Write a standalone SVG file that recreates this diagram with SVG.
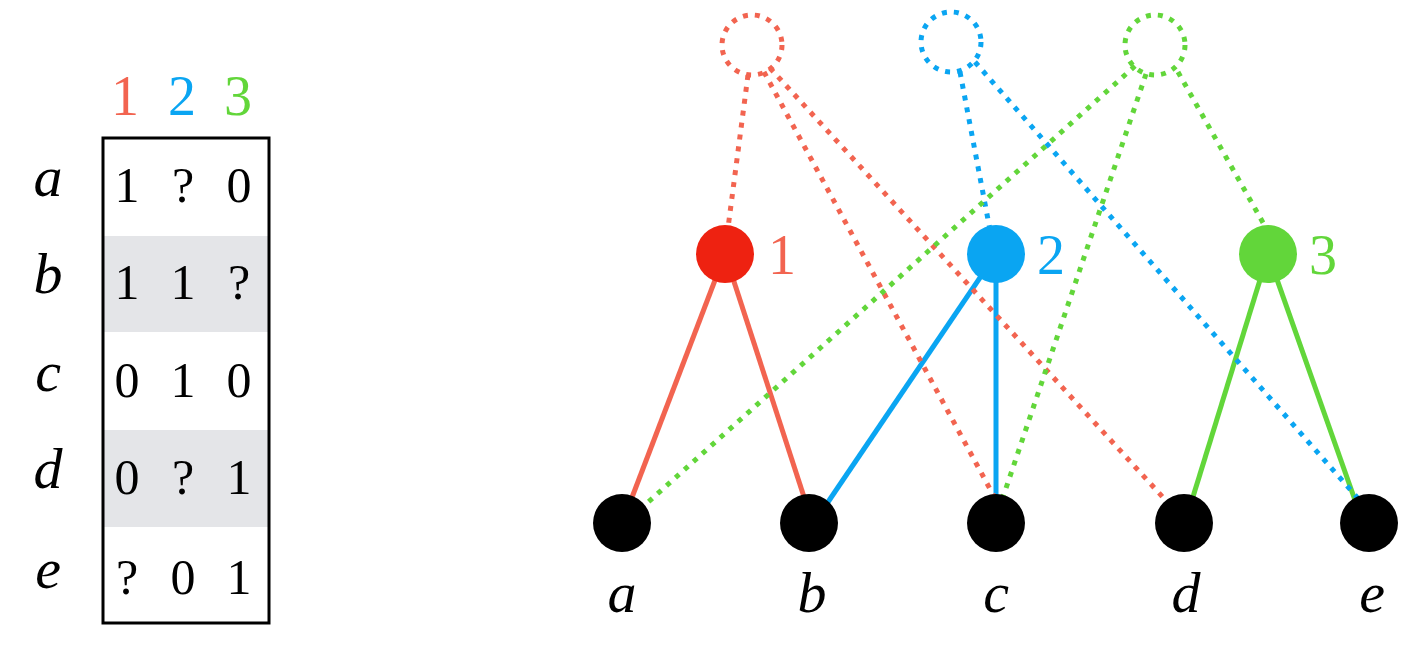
<svg xmlns="http://www.w3.org/2000/svg" width="1428" height="646" viewBox="0 0 1428 646">
<style>
text{font-family:"Times New Roman","Liberation Serif","DejaVu Serif",serif}
.t{font-size:50px}
.h{font-size:56px}
.i{font-size:58px;font-style:italic}
.r{stroke:#f26450}.b{stroke:#0aa5f2}.g{stroke:#62d63a}
.s{stroke-width:5;fill:none}
.d{stroke-width:5;fill:none;stroke-dasharray:5 7}
</style>
<rect width="1428" height="646" fill="#fff"/>
<g id="table">
<rect x="104" y="236" width="164" height="96" fill="#e4e5e8"/>
<rect x="104" y="430" width="164" height="97" fill="#e4e5e8"/>
<rect x="103" y="138" width="166" height="485" fill="none" stroke="#000" stroke-width="3"/>
<g text-anchor="middle">
<text class="h" x="125" y="115" fill="#f26450">1</text>
<text class="h" x="182" y="115" fill="#0aa5f2">2</text>
<text class="h" x="238" y="115" fill="#62d63a">3</text>
<text class="i" x="48" y="196">a</text><text class="i" x="48" y="293">b</text><text class="i" x="48" y="391">c</text><text class="i" x="48" y="488">d</text><text class="i" x="48" y="588">e</text>
<text class="t" x="127" y="202">1</text><text class="t" x="183" y="202">?</text><text class="t" x="239" y="202">0</text>
<text class="t" x="127" y="299">1</text><text class="t" x="183" y="299">1</text><text class="t" x="239" y="299">?</text>
<text class="t" x="127" y="397">0</text><text class="t" x="183" y="397">1</text><text class="t" x="239" y="397">0</text>
<text class="t" x="127" y="494">0</text><text class="t" x="183" y="494">?</text><text class="t" x="239" y="494">1</text>
<text class="t" x="127" y="594">?</text><text class="t" x="183" y="594">0</text><text class="t" x="239" y="594">1</text>
</g>
</g>
<g id="connectors">
<line class="s r" x1="725" y1="254" x2="631" y2="500"/>
<line class="s r" x1="725" y1="254" x2="805" y2="500"/>
<line class="s b" x1="996" y1="254" x2="826" y2="505"/>
<line class="s b" x1="996" y1="254" x2="996" y2="500"/>
<line class="s g" x1="1268" y1="254" x2="1192" y2="500"/>
<line class="s g" x1="1268" y1="254" x2="1356" y2="503"/>
<line class="d r" x1="748" y1="75" x2="728" y2="228"/>
<line class="d r" x1="764" y1="72" x2="996" y2="500"/>
<line class="d r" x1="770" y1="68" x2="1170" y2="505"/>
<line class="d b" x1="960" y1="72" x2="990" y2="230"/>
<line class="d b" x1="975" y1="62" x2="1362" y2="503"/>
<line class="d g" x1="1178" y1="72" x2="1266" y2="228"/>
<line class="d g" x1="1135" y1="66" x2="645" y2="505"/>
<line class="d g" x1="1146" y1="74" x2="1002" y2="500"/>
</g>
<g id="h1"><circle cx="752" cy="45" r="30" class="d r"/></g>
<g id="h2"><circle cx="951" cy="42" r="30" class="d b"/></g>
<g id="h3"><circle cx="1155" cy="45" r="30" class="d g"/></g>
<g id="n1"><circle cx="725" cy="254" r="29" fill="#ee2211"/><text class="h" x="768" y="274" fill="#f26450">1</text></g>
<g id="n2"><circle cx="996" cy="254" r="29" fill="#0aa5f2"/><text class="h" x="1037" y="274" fill="#0aa5f2">2</text></g>
<g id="n3"><circle cx="1268" cy="254" r="29" fill="#62d63a"/><text class="h" x="1309" y="274" fill="#62d63a">3</text></g>
<g id="a"><circle cx="622" cy="523" r="29"/><text class="i" x="622" y="612" text-anchor="middle">a</text></g>
<g id="b"><circle cx="809" cy="523" r="29"/><text class="i" x="812" y="612" text-anchor="middle">b</text></g>
<g id="c"><circle cx="996" cy="523" r="29"/><text class="i" x="996" y="612" text-anchor="middle">c</text></g>
<g id="d"><circle cx="1184" cy="523" r="29"/><text class="i" x="1186" y="612" text-anchor="middle">d</text></g>
<g id="e"><circle cx="1369" cy="523" r="29"/><text class="i" x="1372" y="612" text-anchor="middle">e</text></g>
</svg>
